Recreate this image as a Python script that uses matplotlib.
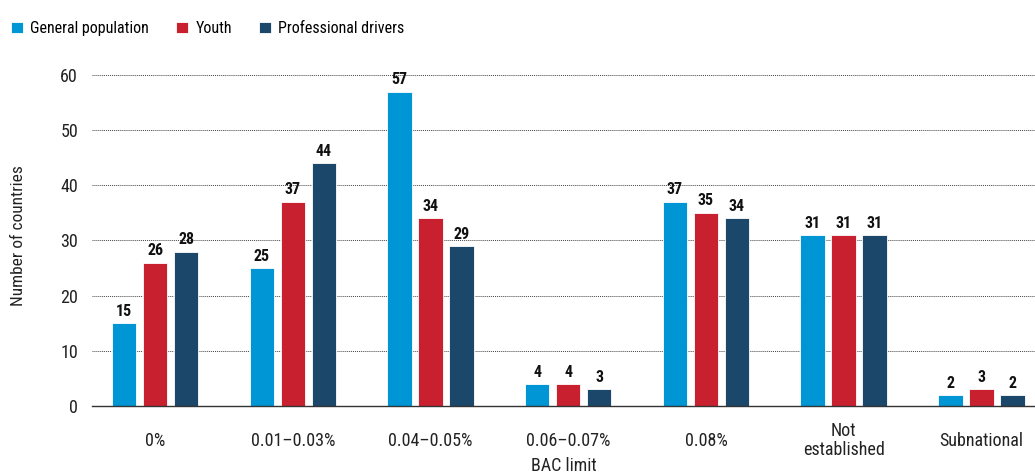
import numpy as np
import matplotlib
matplotlib.use("Agg")
import matplotlib.pyplot as plt

plt.rcParams['font.family'] = ['Roboto Condensed', 'DejaVu Sans']

categories = ["0%", "0.01\u20130.03%", "0.04\u20130.05%", "0.06\u20130.07%", "0.08%", "Not\nestablished", "Subnational"]
general = [15, 25, 57, 4, 37, 31, 2]
youth = [26, 37, 34, 4, 35, 31, 3]
professional = [28, 44, 29, 3, 34, 31, 2]
series_names = ["General population", "Youth", "Professional drivers"]
colors = ["#0096d6", "#c8202f", "#1b486a"]

fig = plt.figure(figsize=(10.35, 4.75), dpi=100)
ax = fig.add_axes([0.0889, 0.1453, 0.9111, 0.6968])

x = np.arange(len(categories))
w = 0.178
off = 0.225
for i, (vals, c, n) in enumerate(zip([general, youth, professional], colors, series_names)):
    pos = x + (i - 1) * off
    ax.bar(pos, vals, width=w, color=c, edgecolor="white", linewidth=0.6, label=n, zorder=3)
    for p, v in zip(pos, vals):
        ax.text(p, v + 0.8, str(v), ha="center", va="bottom", fontsize=11.5,
                fontweight="bold", color="#111111", zorder=4)

ax.set_xlim(-0.458, 6.39)
ax.set_ylim(0, 60)
ax.set_yticks(range(0, 61, 10))
ax.set_xticks(x)
ax.set_xticklabels(categories, fontsize=13, color="#222222", linespacing=1.05)
for lbl in ax.get_xticklabels():
    lbl.set_verticalalignment("center")
ax.tick_params(axis="y", labelsize=13, colors="#222222", length=0, pad=10)
ax.tick_params(axis="x", length=0, pad=25)
ax.yaxis.grid(True, linestyle=(0, (1, 1)), color="#444444", linewidth=0.7, zorder=0)
for s in ["top", "right", "left"]:
    ax.spines[s].set_visible(False)
ax.spines["bottom"].set_color("#333333")
ax.spines["bottom"].set_linewidth(1.0)
ax.spines["bottom"].set_zorder(5)

fig.text(0.018, 0.505, "Number of countries", rotation=90, ha="center", va="center",
         fontsize=12.5, color="#222222")
fig.text(0.5445, 0.019, "BAC limit", ha="center", va="center", fontsize=13, color="#222222")

leg = fig.legend(loc="upper left", bbox_to_anchor=(11 / 1035, 1 - 21 / 475), ncol=3, frameon=False,
                 fontsize=11.5, handlelength=0.75, handleheight=0.75, handletextpad=0.45,
                 columnspacing=1.7, borderpad=0, borderaxespad=0)
fig.savefig("out.png", dpi=100)
